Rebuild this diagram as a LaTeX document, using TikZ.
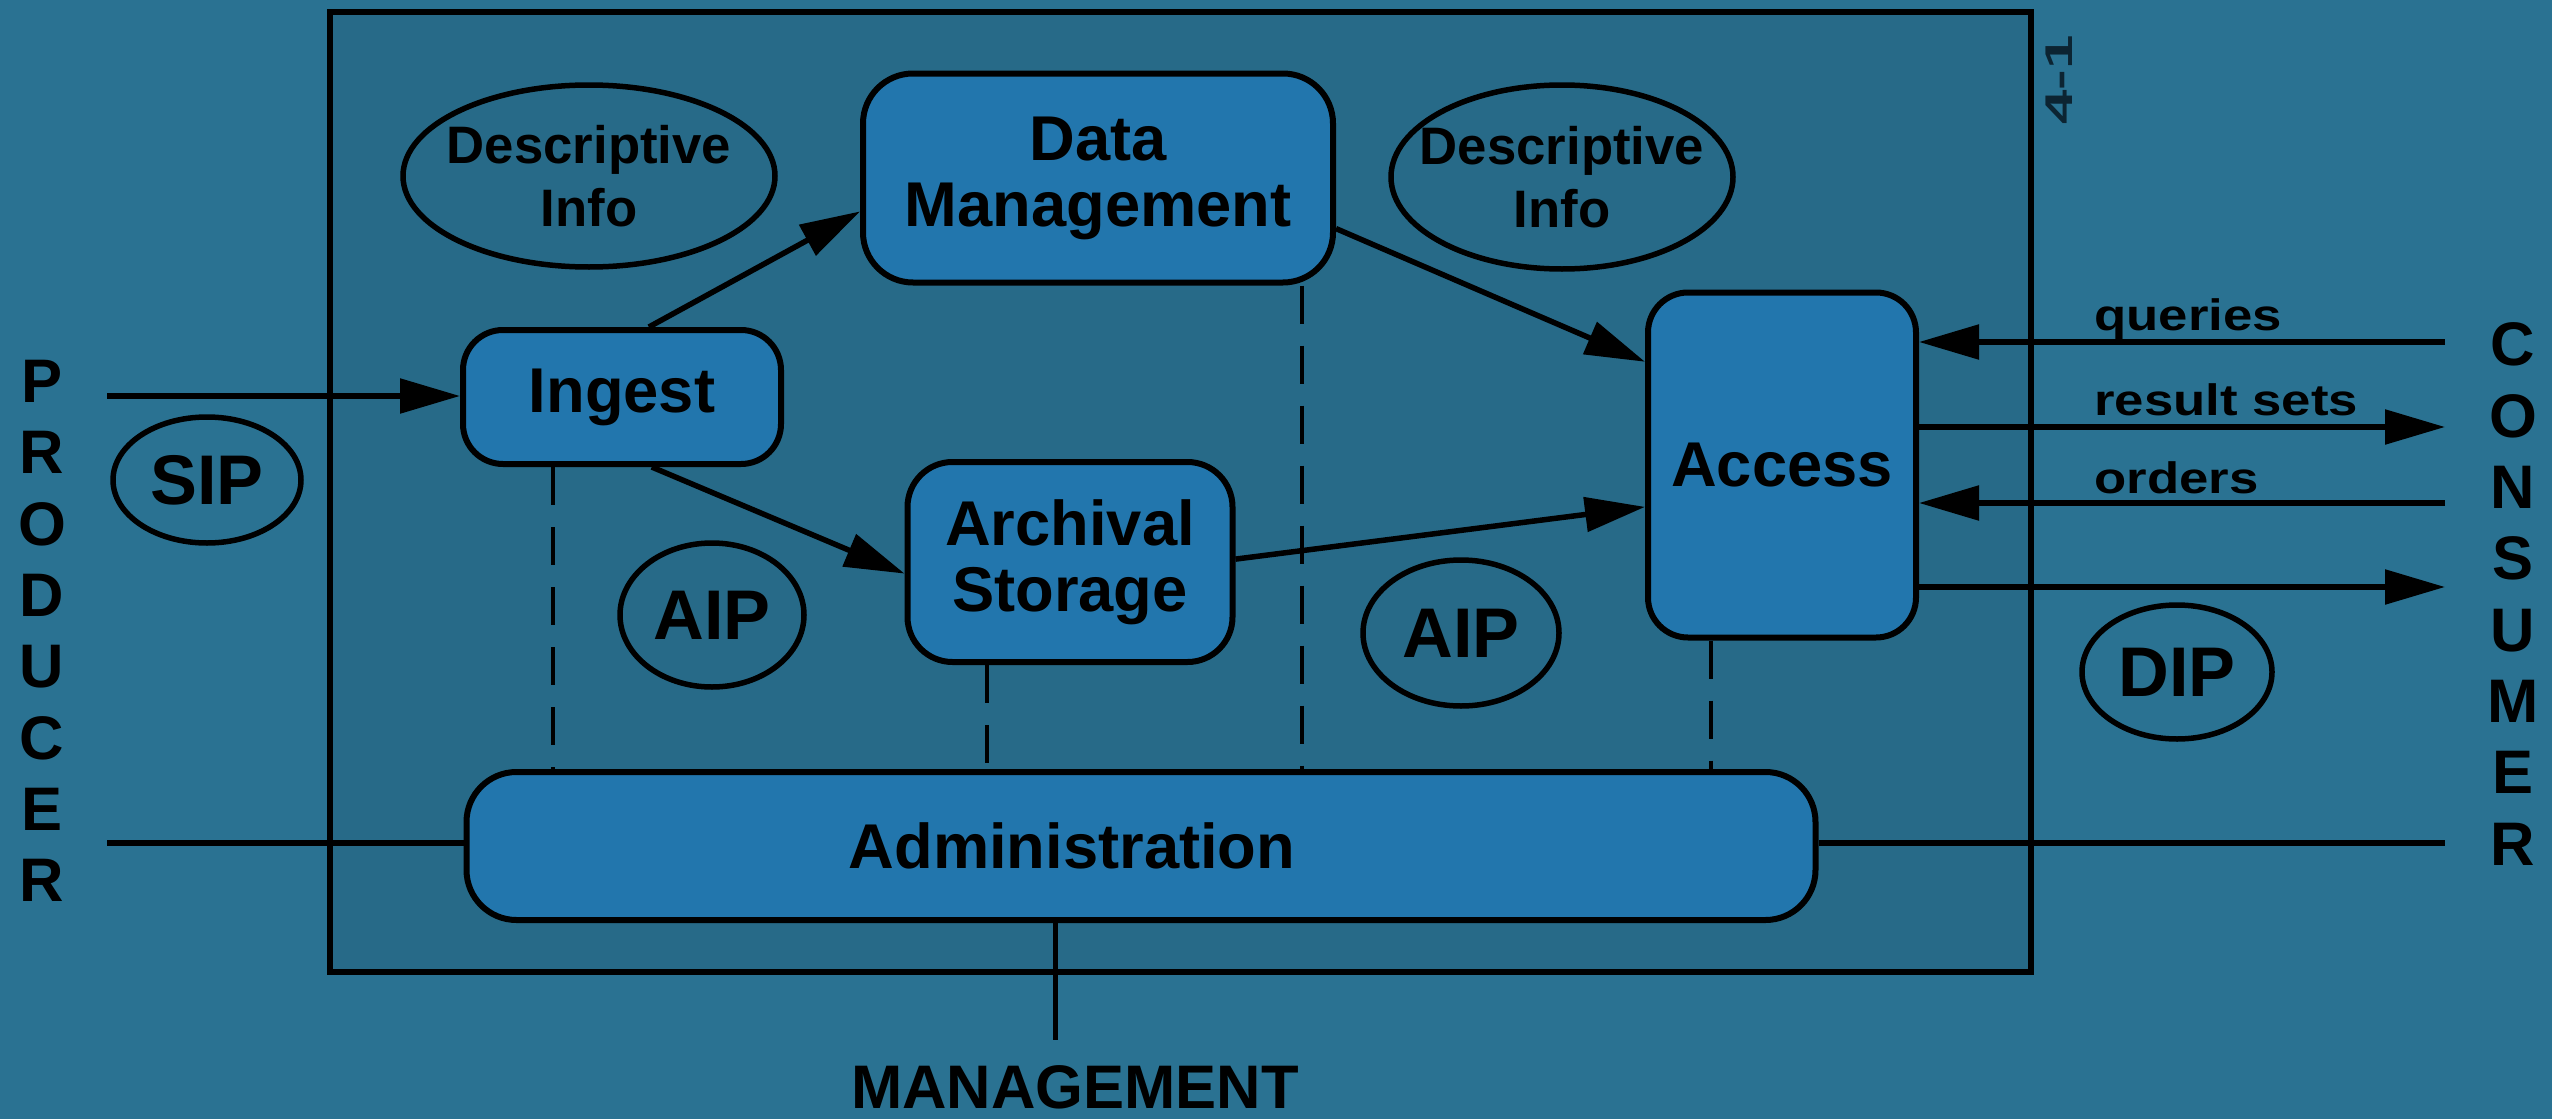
\documentclass[tikz,border=0pt]{standalone}
\usepackage{fontspec}
\setmainfont{Liberation Sans}
\usepackage{graphicx}
\usetikzlibrary{shapes.geometric,arrows.meta}
\definecolor{bgout}{RGB}{42,114,146}
\definecolor{bgin}{RGB}{39,106,136}
\definecolor{boxfill}{RGB}{34,118,173}
\definecolor{faint}{RGB}{12,36,50}
\newcommand{\setfs}[2]{\fontsize{#1}{#2}\selectfont\bfseries}
\begin{document}
\begin{tikzpicture}[x=0.1mm,y=-0.1mm,
    box/.style={draw,line width=0.6mm,fill=boxfill,rounded corners=5mm,
      inner sep=0pt,align=center,font=\setfs{18}{18.8}},
    bubble/.style={draw,ellipse,line width=0.55mm,inner sep=0pt,align=center},
    arr/.style={line width=0.55mm,-{Triangle[length=6mm,width=3.4mm]}},
    dashline/.style={line width=0.45mm,dash pattern=on 3.8mm off 2.2mm},
    side/.style={align=center,font=\setfs{17.5}{20.3}}]
  \useasboundingbox (0,0) rectangle (2552,1119);
  \fill[bgout] (0,0) rectangle (2552,1119);
  \draw[line width=0.55mm,fill=bgin] (330,12) rectangle (2031,972);
  \node[rotate=90,text=faint,font=\fontsize{11}{12}\selectfont\bfseries] (pagemark) at (2059,80) {\scalebox{1.6}[1]{4-1}};

  % functional entities
  \node[box,minimum width=31.8mm,minimum height=13.4mm,rounded corners=4mm] (ingest) at (622,397) {Ingest};
  \node[box,minimum width=47mm,minimum height=20.9mm] (datamgmt) at (1098,178) {Data\\Management};
  \node[box,minimum width=32.5mm,minimum height=20mm,rounded corners=4.5mm] (archival) at (1070,562) {Archival\\Storage};
  \node[box,minimum width=26.8mm,minimum height=34.5mm,rounded corners=4mm] (access) at (1782,465) {Access};
  \node[box,minimum width=134.9mm,minimum height=14.8mm,
    label={[xshift=-6.9mm,font=\setfs{18}{18.8}]center:Administration}] (admin) at (1141,846) {};

  % information packages
  \node[bubble,minimum width=37.2mm,minimum height=18.2mm,
    label={[align=center,font=\setfs{15}{17.9}]center:Descriptive\\Info}] (descleft) at (589,176) {};
  \node[bubble,minimum width=34.2mm,minimum height=18.4mm,
    label={[align=center,font=\setfs{15}{17.9}]center:Descriptive\\Info}] (descright) at (1562,177) {};
  \node[bubble,minimum width=18.8mm,minimum height=12.6mm,font=\setfs{20}{22}] (sip) at (207,480) {SIP};
  \node[bubble,minimum width=18.4mm,minimum height=14.4mm,font=\setfs{20}{22}] (aipleft) at (712,615) {AIP};
  \node[bubble,minimum width=19.6mm,minimum height=14.6mm,font=\setfs{20}{22}] (aipright) at (1461,633) {AIP};
  \node[bubble,minimum width=19mm,minimum height=13.4mm,font=\setfs{20}{22}] (dip) at (2177,672) {DIP};

  % outside parties
  \node[side] (producer) at (42,631) {P\\R\\O\\D\\U\\C\\E\\R};
  \node[side] (consumer) at (2513,594) {C\\O\\N\\S\\U\\M\\E\\R};
  \node[side] (management) at (1075,1087) {MANAGEMENT};

  \coordinate (pin) at (107,396);
  \coordinate (pline) at (107,843);
  \coordinate (cline) at (2445,843);
  \coordinate (mline) at (1055,1040);
  \draw[arr] (pin) -- (pin -| ingest.west);
  \draw[line width=0.55mm] (pline) -- (pline -| admin.west);
  \draw[line width=0.55mm] (admin.east |- cline) -- (cline);
  \draw[line width=0.5mm] (mline |- admin.south) -- (mline);

  % internal flows
  \draw[arr] (ingest.69.5) -- (datamgmt.188);
  \draw[arr] (ingest.-67) -- (archival.184);
  \draw[arr] (datamgmt.-12) -- (access.143);
  \draw[arr] (archival.1) -- (access.197);

  \coordinate (d1) at (553,0);
  \coordinate (d2) at (987,0);
  \coordinate (d3) at (1302,0);
  \coordinate (d4) at (1711,0);
  \draw[dashline] (d1 |- ingest.south) -- (d1 |- admin.north);
  \draw[dashline] (d2 |- archival.south) -- (d2 |- admin.north);
  \draw[dashline] (d3 |- datamgmt.south) -- (d3 |- admin.north);
  \draw[dashline] (d4 |- access.south) -- (d4 |- admin.north);

  % consumer side
  \coordinate (q) at (2445,342);
  \coordinate (r) at (2445,427);
  \coordinate (o) at (2445,503);
  \coordinate (d) at (2445,587);
  \draw[arr] (q) -- (q -| access.east);
  \draw[arr] (r -| access.east) -- (r);
  \draw[arr] (o) -- (o -| access.east);
  \draw[arr] (d -| access.east) -- (d);
  \node[anchor=base west,font=\setfs{12.5}{14}] (queries) at (2082,330) {\scalebox{1.2}[1]{queries}};
  \node[anchor=base west,font=\setfs{12.5}{14}] (results) at (2082,415) {\scalebox{1.2}[1]{result sets}};
  \node[anchor=base west,font=\setfs{12.5}{14}] (orders) at (2082,493) {\scalebox{1.2}[1]{orders}};
\end{tikzpicture}
\end{document}
